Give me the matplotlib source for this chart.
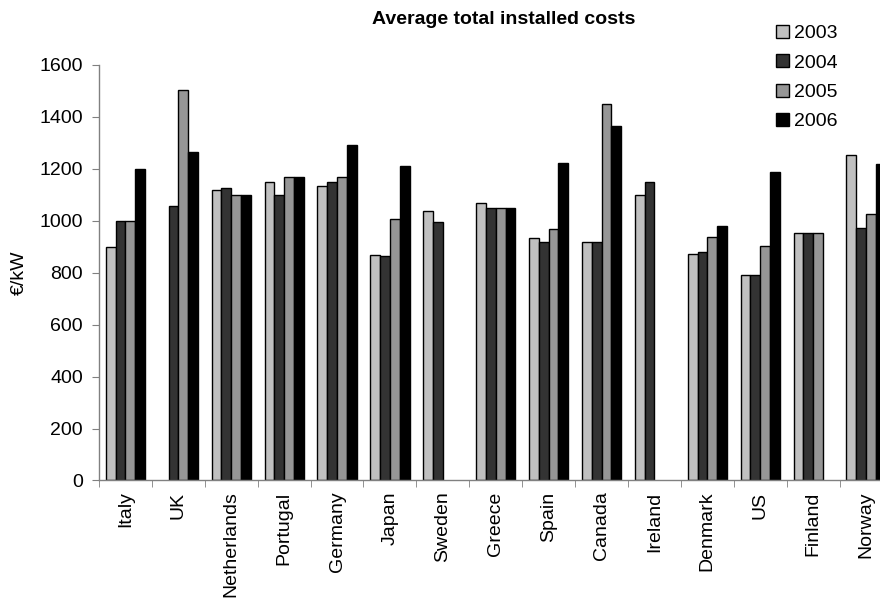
import numpy as np
import matplotlib
matplotlib.use("Agg")
from matplotlib import pyplot as plt
from matplotlib.patches import Patch

plt.rcParams['font.family'] = ['Liberation Sans', 'DejaVu Sans']

countries = ['Italy', 'UK', 'Netherlands', 'Portugal', 'Germany', 'Japan', 'Sweden',
             'Greece', 'Spain', 'Canada', 'Ireland', 'Denmark', 'US', 'Finland', 'Norway']
years = ['2003', '2004', '2005', '2006']

# average installed cost per country and year, EUR/kW (nan = no data)
cost_2003 = [900, np.nan, 1118, 1150, 1133, 869, 1036, 1069, 935, 919, 1099, 871, 793, 953, 1253]
cost_2004 = [1000, 1057, 1126, 1100, 1150, 865, 996, 1050, 920, 920, 1150, 880, 793, 953, 971]
cost_2005 = [1000, 1503, 1100, 1170, 1170, 1005, np.nan, 1050, 968, 1450, np.nan, 938, 903, 953, 1027]
cost_2006 = [1200, 1263, 1100, 1170, 1290, 1210, np.nan, 1050, 1221, 1365, np.nan, 979, 1186, np.nan, 1217]

series = [cost_2003, cost_2004, cost_2005, cost_2006]
colors = ['#c0c0c0', '#333333', '#969696', '#000000']

fig = plt.figure(figsize=(8.8, 6.01), dpi=100)
ax = fig.add_axes([0.1125, 0.2005, 0.9017, 0.6914])

x = np.arange(len(countries))
w = 0.185
for i, (vals, c) in enumerate(zip(series, colors)):
    vals = np.array(vals, dtype=float)
    ok = ~np.isnan(vals)
    ax.bar(x[ok] + (i - 1.5) * w, vals[ok], width=w, color=c,
           edgecolor='black', linewidth=1.0, zorder=2)

ax.set_xlim(-0.5, len(countries) - 0.5)
ax.set_ylim(0, 1600)
ax.set_yticks(np.arange(0, 1601, 200))

# category names without marks, separator ticks between groups
ax.set_xticks(x)
ax.set_xticklabels(countries, rotation=90, fontsize=14)
ax.set_xticks(np.arange(-0.5, len(countries), 1), minor=True)
ax.tick_params(axis='x', which='major', length=0, pad=8)
ax.tick_params(axis='x', which='minor', length=5, direction='out', color='#808080')
ax.tick_params(axis='y', length=5, direction='out', color='#808080', labelsize=14, pad=6.5)

for s in ['top', 'right']:
    ax.spines[s].set_visible(False)
for s in ['left', 'bottom']:
    ax.spines[s].set_color('#808080')
    ax.spines[s].set_linewidth(1.0)

ax.set_ylabel('€/kW', fontsize=14, labelpad=8)

fig.text(504 / 880, 1 - 20 / 601, 'Average total installed costs',
         ha='center', va='center', fontsize=14, fontweight='bold')

handles = [Patch(facecolor=c, edgecolor='black', linewidth=1.0) for c in colors]
fig.legend(handles, years, loc='upper left',
           bbox_to_anchor=(776 / 880, 1 - 25 / 601), bbox_transform=fig.transFigure,
           frameon=False, fontsize=14, handlelength=0.65, handleheight=0.65,
           handletextpad=0.3, labelspacing=0.62, borderpad=0, borderaxespad=0)

fig.savefig('out.png', dpi=100)
